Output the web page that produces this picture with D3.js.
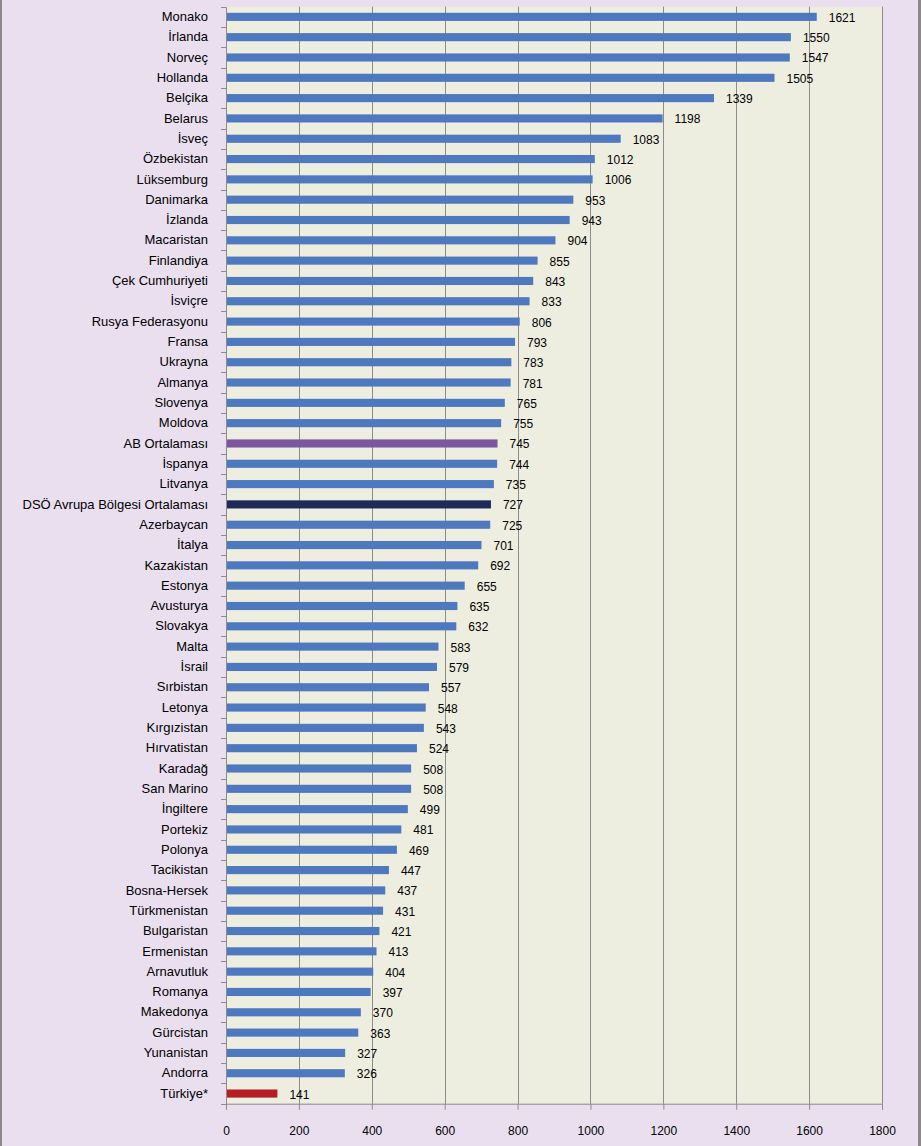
<!DOCTYPE html>
<html><head><meta charset="utf-8">
<script src="https://cdn.jsdelivr.net/npm/d3@7"></script>
<style>html,body{margin:0;padding:0;background:#E9DFEF;}svg{display:block;}</style>
</head><body>
<svg id="c" width="921" height="1146"></svg>
<script>
const countries = ["Monako","İrlanda","Norveç","Hollanda","Belçika","Belarus","İsveç","Özbekistan","Lüksemburg","Danimarka","İzlanda","Macaristan","Finlandiya","Çek Cumhuriyeti","İsviçre","Rusya Federasyonu","Fransa","Ukrayna","Almanya","Slovenya","Moldova","AB Ortalaması","İspanya","Litvanya","DSÖ Avrupa Bölgesi Ortalaması","Azerbaycan","İtalya","Kazakistan","Estonya","Avusturya","Slovakya","Malta","İsrail","Sırbistan","Letonya","Kırgızistan","Hırvatistan","Karadağ","San Marino","İngiltere","Portekiz","Polonya","Tacikistan","Bosna-Hersek","Türkmenistan","Bulgaristan","Ermenistan","Arnavutluk","Romanya","Makedonya","Gürcistan","Yunanistan","Andorra","Türkiye*"];
const values = [1621,1550,1547,1505,1339,1198,1083,1012,1006,953,943,904,855,843,833,806,793,783,781,765,755,745,744,735,727,725,701,692,655,635,632,583,579,557,548,543,524,508,508,499,481,469,447,437,431,421,413,404,397,370,363,327,326,141];
const xTicks = [0,200,400,600,800,1000,1200,1400,1600,1800];
const highlight = {"AB Ortalaması":"#7A57A0","DSÖ Avrupa Bölgesi Ortalaması":"#1E2A58","Türkiye*":"#B81C24"};
const baseColor = "#4E79BF";

const svg = d3.select("#c");
const L = 226, R = 882, T = 6.7, B = 1103.7;
const font = "'Liberation Sans', Arial, sans-serif";

svg.append("rect").attr("x",0).attr("y",0).attr("width",921).attr("height",1146).attr("fill","#E9DFEF");
svg.append("line").attr("x1",1).attr("x2",1).attr("y1",0).attr("y2",1146).attr("stroke","#8a8a8a").attr("stroke-width",2);
svg.append("line").attr("x1",919.5).attr("x2",919.5).attr("y1",0).attr("y2",1146).attr("stroke","#8a8a8a").attr("stroke-width",3);

const x = d3.scaleLinear().domain([0,1800]).range([L,R]);
const y = d3.scaleBand().domain(countries).range([T,B]).paddingInner(0.6).paddingOuter(0.3);

svg.append("rect").attr("x",L).attr("y",T).attr("width",R-L).attr("height",B-T).attr("fill","#EEEEE0");

svg.append("g").selectAll("line").data(xTicks.slice(1)).join("line")
  .attr("x1",d=>Math.round(x(d))+0.5).attr("x2",d=>Math.round(x(d))+0.5)
  .attr("y1",T).attr("y2",B).attr("stroke","#8C8C8C").attr("stroke-width",1);

svg.append("g").selectAll("rect").data(countries).join("rect")
  .attr("x",x(0)).attr("y",d=>y(d))
  .attr("width",(d,i)=>x(values[i])-x(0)).attr("height",y.bandwidth())
  .attr("fill",d=>highlight[d]||baseColor);

svg.append("g").selectAll("text").data(countries).join("text")
  .attr("x",(d,i)=>x(values[i])+12).attr("y",d=>y(d)+y.bandwidth()/2+5)
  .attr("font-family",font).attr("font-size",12).attr("fill","#000")
  .text((d,i)=>values[i]);

const xAxis = d3.axisBottom(x).tickValues(xTicks).tickSize(6).tickPadding(17).tickFormat(d3.format("d"));
const gx = svg.append("g").attr("transform",`translate(0,${B})`).call(xAxis);
gx.select(".domain").attr("stroke","#8C8C8C");
gx.selectAll(".tick line").attr("stroke","#8C8C8C");
gx.selectAll("text").attr("font-family",font).attr("font-size",12).attr("fill","#000");

const yAxis = d3.axisLeft(y).tickSize(0).tickPadding(18);
const gy = svg.append("g").attr("transform",`translate(${L},0)`).call(yAxis);
gy.select(".domain").attr("stroke","#8C8C8C");
gy.selectAll("text").attr("font-family",font).attr("font-size",13).attr("fill","#000");
const bounds = d3.range(countries.length+1).map(i=>T + i*(B-T)/countries.length);
svg.append("g").selectAll("line").data(bounds).join("line")
  .attr("x1",L-5).attr("x2",L).attr("y1",d=>Math.round(d)+0.5).attr("y2",d=>Math.round(d)+0.5)
  .attr("stroke","#8C8C8C");
</script>
</body></html>
